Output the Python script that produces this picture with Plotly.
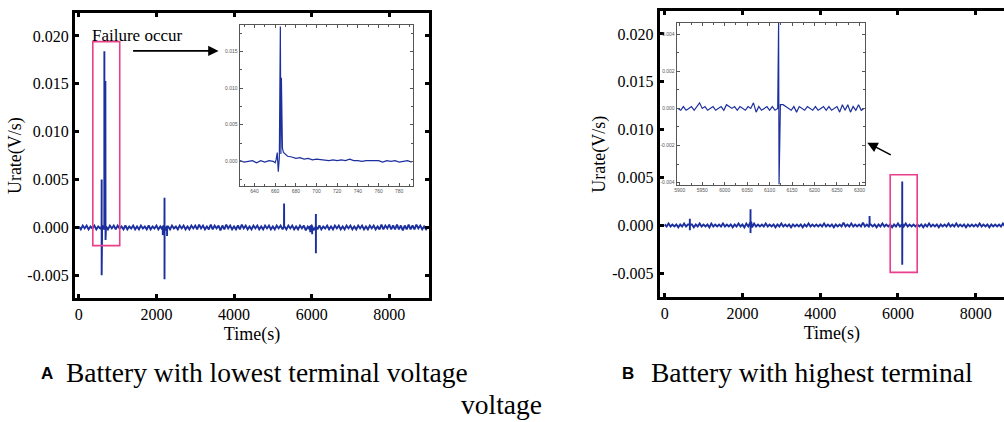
import plotly.graph_objects as go

# ---------------- data ----------------
# main panel time grid (s)
main_t = list(range(0, 9001, 50))

# Panel A baseline Urate (V/s), one value per 50 s
baseA = [
    0.0001, -0.0002, 0.0002, -0.0001, 0.0002, -0.0002, 0.0001, -0.0001, 0.0002, -0.0002,
    0.0001, -0.0001, 0.0002, -0.0002, 0.0001, -0.0002, 0.0002, -0.0001, 0.0002, -0.0002,
    0.0002, -0.0001, 0.0001, -0.0002, 0.0002, -0.0002, 0.0001, -0.0001, 0.0002, -0.0002,
    0.0001, -0.0002, 0.0002, -0.0001, 0.0001, -0.0002, 0.0002, -0.0002, 0.0001, -0.0001,
    0.0002, -0.0002, 0.0001, -0.0002, 0.0002, -0.0003, 0.0001, -0.0002, 0.0002, -0.0001,
    0.0001, -0.0002, 0.0002, -0.0001, 0.0002, -0.0002, 0.0001, -0.0002, 0.0002, -0.0001,
    0.0002, -0.0002, 0.0003, -0.0001, 0.0002, -0.0002, 0.0001, -0.0002, 0.0003, -0.0002,
    0.0002, -0.0001, 0.0002, -0.0003, 0.0002, -0.0002, 0.0003, -0.0001, 0.0002, -0.0002,
    0.0001, -0.0002, 0.0002, -0.0002, 0.0003, -0.0001, 0.0002, -0.0002, 0.0001, -0.0002,
    0.0002, -0.0001, 0.0002, -0.0002, 0.0001, -0.0002, 0.0002, -0.0001, 0.0002, -0.0002,
    0.0001, -0.0002, 0.0002, -0.0001, 0.0002, -0.0002, 0.0001, -0.0002, 0.0002, -0.0001,
    0.0002, -0.0002, 0.0001, -0.0002, 0.0002, -0.0001, 0.0002, -0.0003, 0.0001, -0.0002,
    0.0002, -0.0003, 0.0001, -0.0002, 0.0002, -0.0002, 0.0001, -0.0001, 0.0002, -0.0002,
    0.0001, -0.0002, 0.0002, -0.0001, 0.0002, -0.0002, 0.0001, -0.0002, 0.0002, -0.0001,
    0.0002, -0.0002, 0.0001, -0.0002, 0.0002, -0.0001, 0.0002, -0.0002, 0.0001, -0.0002,
    0.0002, -0.0001, 0.0002, -0.0002, 0.0001, -0.0002, 0.0003, -0.0002, 0.0002, -0.0001,
    0.0003, -0.0002, 0.0002, -0.0002, 0.0003, -0.0002, 0.0002, -0.0003, 0.0002, -0.0002,
    0.0003, -0.0002, 0.0002, -0.0002, 0.0003, -0.0001, 0.0002, -0.0002, 0.0001, -0.0002,
    0.0001]
# Panel A events
spikeA_t = [586, 588, 588, 590, 592, 656, 658, 660, 682, 684, 686, 688, 690,
            2162, 2164, 2166, 2206, 2208, 2208, 2210, 2272, 2274, 2276,
            5288, 5290, 5292,
            5962, 5964, 5966, 6012, 6014, 6016, 6108, 6110, 6110, 6112]
spikeA_v = [0.0001, 0.0050, -0.0050, 0.0012, 0.0001, 0.0002, 0.0184, 0.0004, 0.0003, 0.0153, 0.0004, -0.0013, 0.0002,
            0.0001, -0.0008, 0.0001, 0.0001, 0.0031, -0.0054, 0.0001, 0.0001, -0.0009, 0.0001,
            0.0001, 0.0025, 0.0000,
            0.0001, -0.0005, 0.0001, 0.0001, -0.0007, 0.0001, 0.0001, 0.0014, -0.0027, 0.0001]

# Panel B baseline Urate (V/s), one value per 50 s
baseB = [
    0.0001, -0.0001, 0.0002, -0.0001, 0.0001, -0.0001, 0.0001, -0.0002, 0.0001, -0.0001,
    0.0002, -0.0001, 0.0001, -0.0001, 0.0001, -0.0002, 0.0001, -0.0001, 0.0002, -0.0001,
    0.0001, -0.0001, 0.0001, -0.0002, 0.0002, -0.0001, 0.0001, -0.0001, 0.0001, -0.0001,
    0.0002, -0.0001, 0.0001, -0.0001, 0.0001, -0.0002, 0.0001, -0.0001, 0.0002, -0.0001,
    0.0001, -0.0002, 0.0002, -0.0001, 0.0003, -0.0002, 0.0002, -0.0001, 0.0001, -0.0001,
    0.0001, -0.0001, 0.0002, -0.0001, 0.0001, -0.0001, 0.0001, -0.0002, 0.0001, -0.0001,
    0.0002, -0.0001, 0.0001, -0.0001, 0.0001, -0.0002, 0.0001, -0.0001, 0.0001, -0.0001,
    0.0001, -0.0002, 0.0001, -0.0001, 0.0002, -0.0001, 0.0001, -0.0001, 0.0001, -0.0001,
    0.0001, -0.0001, 0.0002, -0.0001, 0.0001, -0.0001, 0.0001, -0.0002, 0.0001, -0.0001,
    0.0001, -0.0001, 0.0003, -0.0001, 0.0001, -0.0001, 0.0002, -0.0001, 0.0001, -0.0001,
    0.0001, -0.0001, 0.0003, -0.0001, 0.0001, -0.0001, 0.0001, -0.0001, 0.0001, -0.0002,
    0.0001, -0.0001, 0.0002, -0.0001, 0.0001, -0.0001, 0.0001, -0.0002, 0.0001, -0.0001,
    0.0002, -0.0001, 0.0001, -0.0001, 0.0002, -0.0001, 0.0001, -0.0001, 0.0001, -0.0001,
    0.0001, -0.0001, 0.0001, -0.0002, 0.0001, -0.0001, 0.0002, -0.0001, 0.0001, -0.0001,
    0.0001, -0.0002, 0.0001, -0.0001, 0.0001, -0.0001, 0.0002, -0.0001, 0.0001, -0.0001,
    0.0002, -0.0001, 0.0001, -0.0001, 0.0001, -0.0002, 0.0001, -0.0001, 0.0001, -0.0001,
    0.0001, -0.0001, 0.0002, -0.0001, 0.0001, -0.0001, 0.0001, -0.0002, 0.0001, -0.0001,
    0.0001, -0.0001, 0.0001, -0.0001, 0.0002, -0.0001, 0.0001, -0.0001, 0.0001, -0.0001,
    0.0000]
spikeB_t = [646, 648, 648, 652,
            2206, 2208, 2208, 2212, 2230,
            5268, 5270, 5272,
            6108, 6110, 6110, 6112]
spikeB_v = [0.0001, 0.0007, -0.0005, 0.0001,
            0.0001, 0.0017, -0.0008, 0.0004, 0.0003,
            0.0001, 0.0010, 0.0001,
            0.0001, 0.0046, -0.0041, 0.0002]

# Inset A (zoom 625-793 s)
insetA_t = [626, 630, 634, 638, 642, 646, 650, 654, 658,
            660, 661, 662, 663, 664, 665, 665.5, 666, 666.5, 667, 668, 670, 672,
            676, 680, 684, 688, 692, 696, 700, 704, 708, 712, 716, 720, 724, 728,
            732, 736, 740, 744, 748, 752, 756, 760, 764, 768, 772, 776, 780, 784, 788, 792]
insetA_v = [0.0001, -0.0001, 0.0000, 0.0001, -0.0002, 0.0001, -0.0001, 0.0001, 0.0000,
            -0.0002, 0.0003, 0.0012, -0.0014, 0.0005, 0.0184, 0.0010, 0.0114, 0.0030, 0.0018, 0.0012, 0.0009, 0.0007,
            0.0006, 0.0004, 0.0005, 0.0003, 0.0004, 0.0002, 0.0003, 0.0002, 0.0002, 0.0001, 0.0002, 0.0001, 0.0002, 0.0001,
            0.0003, 0.0001, 0.0001, 0.0000, 0.0001, 0.0001, 0.0000, 0.0001, -0.0001, 0.0001, 0.0000, 0.0001, -0.0001, 0.0000, 0.0001, -0.0001]

# Inset B (zoom 5893-6313 s)
insetB_t = list(range(5896, 6311, 6))
insetB_v = [
    0.0000, -0.0001, 0.0001, -0.0001, 0.0000, 0.0001, -0.0001, 0.0001, 0.0003, 0.0000,
    0.0001, -0.0001, 0.0000, 0.0001, -0.0001, 0.0000, 0.0001, -0.0001, 0.0002, 0.0001,
    0.0000, 0.0001, -0.0001, 0.0001, 0.0000, -0.0001, 0.0001, 0.0000, 0.0003, -0.0002,
    0.0001, -0.0001, 0.0000, 0.0001, -0.0001, 0.0001, -0.0001, 0.0000, 0.0002, 0.0002,
    0.0001, 0.0000, -0.0001, 0.0001, -0.0002, 0.0001, 0.0000, -0.0001, 0.0001, 0.0000,
    -0.0001, 0.0001, -0.0001, 0.0000, 0.0001, -0.0001, 0.0001, -0.0001, 0.0000, 0.0001,
    -0.0002, 0.0002, -0.0001, 0.0002, -0.0002, 0.0001, -0.0001, 0.0002, -0.0001, 0.0000]
spikeBi_t = [6120, 6121]
spikeBi_v = [0.0046, -0.0041]

# tick labels
main_xticks = [0, 2000, 4000, 6000, 8000]
main_xlabels = ["0", "2000", "4000", "6000", "8000"]
main_yticks = [-0.005, 0.0, 0.005, 0.010, 0.015, 0.020]
main_ylabels = ["-0.005", "0.000", "0.005", "0.010", "0.015", "0.020"]
insA_xticks = [640, 660, 680, 700, 720, 740, 760, 780]
insA_xlabels = ["640", "660", "680", "700", "720", "740", "760", "780"]
insA_yticks = [0.0, 0.005, 0.010, 0.015]
insA_ylabels = ["0.000", "0.005", "0.010", "0.015"]
insB_xticks = [5900, 5950, 6000, 6050, 6100, 6150, 6200, 6250, 6300]
insB_xlabels = ["5900", "5950", "6000", "6050", "6100", "6150", "6200", "6250", "6300"]
insB_yticks = [-0.004, -0.002, 0.0, 0.002, 0.004]
insB_ylabels = ["-0.004", "-0.002", "0.000", "0.002", "0.004"]


def merge(t1, v1, t2, v2):
    pts = sorted(zip(list(t1) + list(t2), list(v1) + list(v2)), key=lambda p: p[0])
    return [p[0] for p in pts], [p[1] for p in pts]


W, H = 1004, 422
def px(x): return x / W
def py(y): return 1 - y / H

SERIF = "Liberation Serif"
SANS = "Liberation Sans"
BLUE = "#1b2f9e"
PINK = "#ea3f8a"

fig = go.Figure()
tA, vA = merge(main_t, baseA, spikeA_t, spikeA_v)
tB, vB = merge(main_t, baseB, spikeB_t, spikeB_v)
tBi, vBi = merge(insetB_t, insetB_v, spikeBi_t, spikeBi_v)
fig.add_trace(go.Scatter(x=tA, y=vA, mode="lines", line=dict(color=BLUE, width=1.9), xaxis="x", yaxis="y"))
fig.add_trace(go.Scatter(x=tB, y=vB, mode="lines", line=dict(color=BLUE, width=1.9), xaxis="x2", yaxis="y2"))
fig.add_trace(go.Scatter(x=insetA_t, y=insetA_v, mode="lines", line=dict(color=BLUE, width=1.2), xaxis="x3", yaxis="y3"))
fig.add_trace(go.Scatter(x=tBi, y=vBi, mode="lines", line=dict(color=BLUE, width=1.2), xaxis="x4", yaxis="y4"))

main_ax = dict(showgrid=False, zeroline=False, showline=True, linewidth=3, linecolor="black",
               ticks="inside", ticklen=4, tickwidth=2.5, tickcolor="black",
               tickfont=dict(family=SERIF, size=16, color="black"))
ins_ax = dict(showgrid=False, zeroline=False, showline=True, linewidth=1, linecolor="#555",
              ticks="inside", ticklen=3, tickwidth=0.8, tickcolor="#555", mirror="ticks",
              tickfont=dict(family=SANS, size=5, color="#555"))
title_font = dict(family=SERIF, size=18, color="black")

fig.update_layout(
    width=W, height=H, margin=dict(l=0, r=0, t=0, b=0),
    font=dict(family=SERIF, size=16, color="black"),
    paper_bgcolor="white", plot_bgcolor="white", showlegend=False,
    xaxis=dict(main_ax, domain=[px(73), px(428)], range=[-103, 9029], anchor="y", mirror="ticks",
               tickvals=main_xticks, ticktext=main_xlabels,
               title=dict(text="Time(s)", font=title_font, standoff=5)),
    yaxis=dict(main_ax, domain=[py(299), py(13)], range=[-0.0073958, 0.022396], anchor="x", mirror="ticks",
               tickvals=main_yticks, ticktext=main_ylabels,
               title=dict(text="Urate(V/s)", font=title_font, standoff=2)),
    xaxis2=dict(main_ax, domain=[px(659), 1.0], range=[-128, 8727], anchor="y2", mirror="ticks",
                tickvals=main_xticks, ticktext=main_xlabels,
                title=dict(text="Time(s)", font=title_font, standoff=5)),
    yaxis2=dict(main_ax, domain=[py(298), py(11)], range=[-0.0075, 0.022396], anchor="x2", mirror=False,
                tickvals=main_yticks, ticktext=main_ylabels,
                title=dict(text="Urate(V/s)", font=title_font, standoff=2)),
    xaxis3=dict(ins_ax, domain=[px(238), px(412)], range=[625.5, 793.5], anchor="y3",
                tickvals=insA_xticks, ticktext=insA_xlabels,
                minor=dict(ticks="inside", ticklen=2, tickcolor="#555", tickmode="linear", tick0=630, dtick=20)),
    yaxis3=dict(ins_ax, domain=[py(186), py(25)], range=[-0.0033, 0.0186], anchor="x3",
                tickvals=insA_yticks, ticktext=insA_ylabels,
                minor=dict(ticks="inside", ticklen=2, tickcolor="#555", tickmode="linear", tick0=0.0025, dtick=0.005)),
    xaxis4=dict(ins_ax, domain=[px(676), px(865)], range=[5893, 6313], anchor="y4",
                tickvals=insB_xticks, ticktext=insB_xlabels,
                minor=dict(ticks="inside", ticklen=2, tickcolor="#555", tickmode="linear", tick0=5925, dtick=50)),
    yaxis4=dict(ins_ax, domain=[py(185), py(23)], range=[-0.0041, 0.0046], anchor="x4",
                tickvals=insB_yticks, ticktext=insB_ylabels,
                minor=dict(ticks="inside", ticklen=2, tickcolor="#555", tickmode="linear", tick0=-0.003, dtick=0.002)),
)

fig.add_shape(type="rect", xref="x", yref="y", x0=360, x1=1054, y0=-0.0019, y1=0.0194,
              line=dict(color=PINK, width=1.6))
fig.add_shape(type="rect", xref="x2", yref="y2", x0=5800, x1=6494, y0=-0.0049, y1=0.0053,
              line=dict(color=PINK, width=1.6))

ann = [
    dict(text="Failure occur", x=px(88), y=py(36), xanchor="left", yanchor="middle",
         font=dict(family=SERIF, size=17, color="black"), showarrow=False),
    dict(text="", x=px(217), y=py(51), ax=-87, ay=0, showarrow=True, arrowhead=2,
         arrowsize=1.3, arrowwidth=1.6, arrowcolor="black", standoff=0),
    dict(text="", x=px(867), y=py(143), ax=25, ay=13, showarrow=True, arrowhead=2,
         arrowsize=1.3, arrowwidth=1.6, arrowcolor="black", standoff=0),
    dict(text="<b>A</b>", x=px(37), y=py(374), xanchor="left", yanchor="middle",
         font=dict(family=SANS, size=17, color="black"), showarrow=False),
    dict(text="Battery with lowest terminal voltage", x=px(62), y=py(373), xanchor="left", yanchor="middle",
         font=dict(family=SERIF, size=27.5, color="black"), showarrow=False),
    dict(text="voltage", x=px(500), y=py(405), xanchor="center", yanchor="middle",
         font=dict(family=SERIF, size=27.5, color="black"), showarrow=False),
    dict(text="<b>B</b>", x=px(619), y=py(374), xanchor="left", yanchor="middle",
         font=dict(family=SANS, size=17, color="black"), showarrow=False),
    dict(text="Battery with highest terminal", x=px(648), y=py(373), xanchor="left", yanchor="middle",
         font=dict(family=SERIF, size=27.5, color="black"), showarrow=False),
]
for a in ann:
    a.setdefault("xref", "paper")
    a.setdefault("yref", "paper")
    fig.add_annotation(**a)

fig.write_html("out.html")
